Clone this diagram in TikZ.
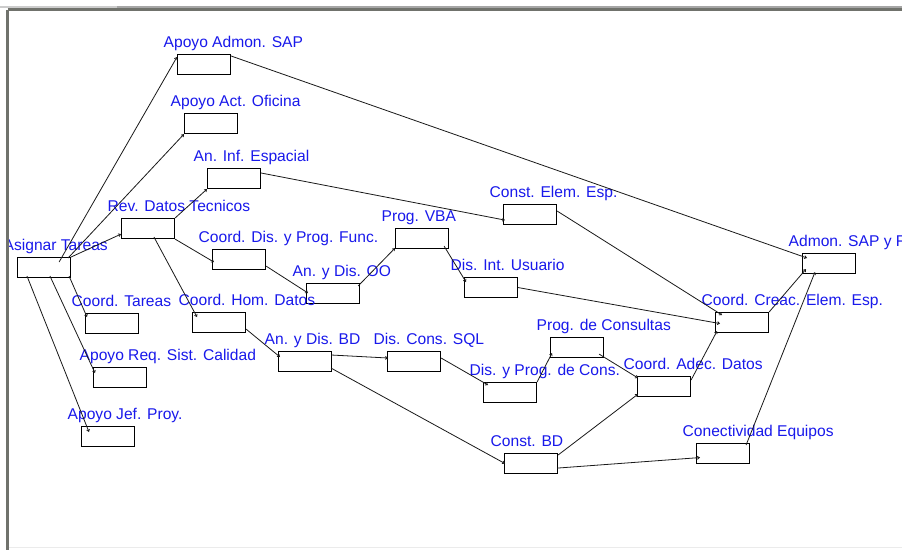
\documentclass[tikz,border=0pt]{standalone}
\usepackage{fontspec}
\setmainfont{Liberation Sans}
\usetikzlibrary{arrows.meta,calc}
\definecolor{lblblue}{RGB}{25,25,235}
\definecolor{framegray}{RGB}{112,114,108}
\definecolor{edgegray}{RGB}{25,25,25}

\begin{document}
\begin{tikzpicture}[x=1pt,y=-1pt,->,>={Straight Barb[length=2pt,width=3pt]},
  task/.style={draw,line width=1.1pt,anchor=north west,minimum width=53pt,minimum height=20pt,inner sep=0pt},
  tasklbl/.style={anchor=base west,inner sep=0pt,text=lblblue,font=\fontsize{15.6}{18}\selectfont},
  every edge/.style={draw,edgegray,line width=0.8pt}]

  \useasboundingbox (0,0) rectangle (902,550);
  \fill[white] (0,0) rectangle (902,550);

  % boxes
  \node[task] (asig)  at (17,257)  {};
  \node[task] (apsap) at (177,54)  {};
  \node[task] (apoof) at (184,113) {};
  \node[task] (espa)  at (207,168) {};
  \node[task] (rev)   at (121,218) {};
  \node[task] (cdpf)  at (212,249) {};
  \node[task] (ctar)  at (85,313)  {};
  \node[task] (chom)  at (192,312) {};
  \node[task] (areq)  at (93,367)  {};
  \node[task] (ajef)  at (81,426)  {};
  \node[task] (anoo)  at (306,283) {};
  \node[task] (vba)   at (395,228) {};
  \node[task] (cesp)  at (503,204) {};
  \node[task] (disu)  at (464,277) {};
  \node[task] (admf)  at (802,253) {};
  \node[task] (andb)  at (278,351) {};
  \node[task] (dsql)  at (387,351) {};
  \node[task] (pcon)  at (550,337) {};
  \node[task] (dpc)   at (483,382) {};
  \node[task] (ccre)  at (715,312) {};
  \node[task] (cadd)  at (637,376) {};
  \node[task] (cbd)   at (504,453) {};
  \node[task] (ceq)   at (696,443) {};

  % labels
  \node[tasklbl] (asig-l)  at ($(asig.north west)+(-13.5,-6.5)$)  {Asignar Tareas};
  \node[tasklbl] (apsap-l) at ($(apsap.north west)+(-13.5,-6.5)$) {Apoyo Admon. SAP};
  \node[tasklbl] (apoof-l) at ($(apoof.north west)+(-13.5,-6.5)$) {Apoyo Act. Oficina};
  \node[tasklbl] (espa-l)  at ($(espa.north west)+(-13.5,-6.5)$)  {An. Inf. Espacial};
  \node[tasklbl] (rev-l)   at ($(rev.north west)+(-13.5,-6.5)$)   {Rev. Datos Tecnicos};
  \node[tasklbl] (cdpf-l)  at ($(cdpf.north west)+(-13.5,-6.5)$)  {Coord. Dis. y Prog. Func.};
  \node[tasklbl] (ctar-l)  at ($(ctar.north west)+(-13.5,-6.5)$)  {Coord. Tareas};
  \node[tasklbl] (chom-l)  at ($(chom.north west)+(-13.5,-6.5)$)  {Coord. Hom. Datos};
  \node[tasklbl] (areq-l)  at ($(areq.north west)+(-13.5,-6.5)$)  {Apoyo Req. Sist. Calidad};
  \node[tasklbl] (ajef-l)  at ($(ajef.north west)+(-13.5,-6.5)$)  {Apoyo Jef. Proy.};
  \node[tasklbl] (anoo-l)  at ($(anoo.north west)+(-13.5,-6.5)$)  {An. y Dis. OO};
  \node[tasklbl] (vba-l)   at ($(vba.north west)+(-13.5,-6.5)$)   {Prog. VBA};
  \node[tasklbl] (cesp-l)  at ($(cesp.north west)+(-13.5,-6.5)$)  {Const. Elem. Esp.};
  \node[tasklbl] (disu-l)  at ($(disu.north west)+(-13.5,-6.5)$)  {Dis. Int. Usuario};
  \node[tasklbl] (admf-l)  at ($(admf.north west)+(-13.5,-6.5)$)  {Admon. SAP y F};
  \node[tasklbl] (andb-l)  at ($(andb.north west)+(-13.5,-6.5)$)  {An. y Dis. BD};
  \node[tasklbl] (dsql-l)  at ($(dsql.north west)+(-13.5,-6.5)$)  {Dis. Cons. SQL};
  \node[tasklbl] (pcon-l)  at ($(pcon.north west)+(-13.5,-6.5)$)  {Prog. de Consultas};
  \node[tasklbl] (dpc-l)   at ($(dpc.north west)+(-13.5,-6.5)$)   {Dis. y Prog. de Cons.};
  \node[tasklbl] (ccre-l)  at ($(ccre.north west)+(-13.5,-6.5)$)  {Coord. Creac. Elem. Esp.};
  \node[tasklbl] (cadd-l)  at ($(cadd.north west)+(-13.5,-6.5)$)  {Coord. Adec. Datos};
  \node[tasklbl] (cbd-l)   at ($(cbd.north west)+(-13.5,-6.5)$)   {Const. BD};
  \node[tasklbl] (ceq-l)   at ($(ceq.north west)+(-13.5,-6.5)$)   {Conectividad Equipos};

  % links
  \path
  ($(asig.north east)+(-12,5)$)  edge ($(apsap.north west)+(0,3)$)
  ($(asig.north east)+(-3,1)$)   edge (apoof.south west)
  (asig.north east)              edge ($(rev.south west)+(0,-5)$)
  (rev.north east)               edge (espa.south west)
  (rev.south east)               edge ($(cdpf.south west)+(2,-8)$)
  ($(rev.south west)+(33,-2)$)   edge ($(chom.north west)+(5,5)$)
  ($(asig.south east)+(-2,-2)$)  edge ($(ctar.north west)+(2,4)$)
  ($(asig.south west)+(33,-2)$)  edge ($(areq.north west)+(2,6)$)
  ($(asig.south west)+(10,-2)$)  edge ($(ajef.north west)+(8,6)$)
  ($(espa.north east)+(0,5)$)    edge ($(cesp.south west)+(2,-5)$)
  ($(cdpf.south east)+(0,-4)$)   edge ($(anoo.north west)+(2,10)$)
  ($(anoo.north east)+(-2,3)$)   edge ($(vba.south west)+(0,-1)$)
  ($(vba.south east)+(-5,-3)$)   edge ($(disu.north west)+(2,5)$)
  ($(cesp.north east)+(0,7)$)    edge ($(ccre.north west)+(7,3)$)
  (disu.east)                    edge ($(ccre.west)+(5,1)$)
  ($(apsap.north east)+(0,2)$)   edge ($(admf.north west)+(5,5)$)
  (ccre.north east)              edge ($(admf.south west)+(4,-5)$)
  ($(ceq.north east)+(-4,2)$)    edge ($(admf.south west)+(13,-2)$)
  ($(chom.south east)+(0,-4)$)   edge ($(andb.north west)+(2,6)$)
  ($(andb.north east)+(-1,4)$)   edge ($(dsql.north west)+(1,7)$)
  ($(andb.south east)+(-1,-4)$)  edge ($(cbd.west)+(1,0)$)
  ($(dsql.north east)+(0,7)$)    edge ($(dpc.north west)+(5,3)$)
  (dpc.north east)               edge ($(pcon.south west)+(2,-5)$)
  ($(pcon.south east)+(-5,-4)$)  edge ($(cadd.north west)+(1,2)$)
  ($(cadd.north east)+(0,4)$)    edge ($(ccre.south west)+(2,-2)$)
  ($(cbd.north east)+(0,2)$)     edge ($(cadd.south west)+(1,-3)$)
  ($(cbd.south east)+(-1,-6)$)   edge ($(ceq.west)+(4,4)$);

  % window frame
  \fill[white] (0,0) rectangle (6.5,550);
  \draw[-,line width=1.5pt,black!20] (0,7) -- (117,7);
  \draw[-,line width=1.5pt,black!35] (117,7) -- (902,7);
  \draw[-,line width=2.5pt,framegray] (7.5,9.5) -- (902,9.5);
  \draw[-,line width=2.5pt,framegray] (7.5,9.5) -- (7.5,550);
  \draw[-,line width=1.5pt,black!8] (9,547.5) -- (902,547.5);
\end{tikzpicture}
\end{document}
